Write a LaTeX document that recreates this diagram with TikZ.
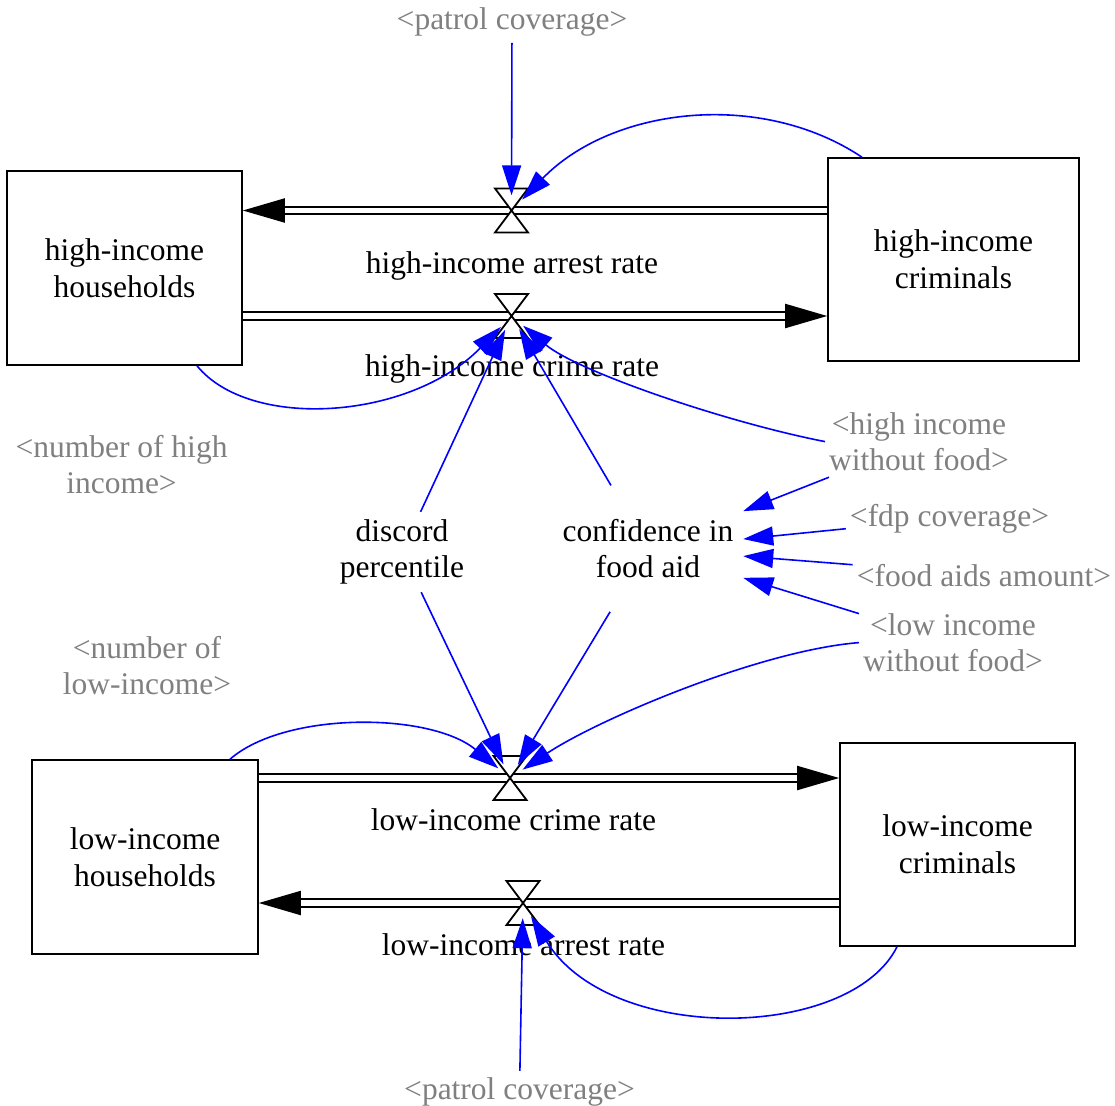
\documentclass[tikz,border=0pt]{standalone}
\usepackage{fontspec}
\setmainfont{Liberation Serif}
\usetikzlibrary{arrows.meta,calc}
\definecolor{linkblue}{RGB}{0,0,255}
\definecolor{ghostgray}{RGB}{128,128,128}
\begin{document}
\begin{tikzpicture}[x=1pt,y=-1pt,
  every node/.style={font=\fontsize{31.5}{36.7}\selectfont, align=center},
  stock/.style={draw, line width=1.6pt, inner sep=0pt},
  ghost/.style={text=ghostgray, inner xsep=4pt, inner ysep=6pt},
  ratelabel/.style={anchor=base, inner sep=0pt},
  valvept/.style={circle, minimum size=30pt, inner sep=0pt},
  pipe/.style={line width=2pt, double=white, double distance=5.7pt,
    -{Triangle[length=42pt,width=24pt]}},
  valveshape/.style={line width=1.8pt, fill=white, line join=miter},
  infolink/.style={draw=linkblue, line width=1.6pt,
    -{Triangle[length=30pt,width=19pt]}}
]
\fill[white] (0,0) rectangle (1115,1105);
\useasboundingbox (0,0) rectangle (1115,1105);

% stocks
\node[stock, minimum width=235pt, minimum height=194pt] (hh) at (124.5,268) {high-income\\households};
\node[stock, minimum width=251pt, minimum height=203pt] (hc) at (953.5,259.5) {high-income\\criminals};
\node[stock, minimum width=226pt, minimum height=194pt] (lh) at (145,857) {low-income\\households};
\node[stock, minimum width=235pt, minimum height=203pt] (lc) at (957.5,844.5) {low-income\\criminals};

% valves
\node[valvept] (hav) at (511.5,210.5) {};
\node[valvept] (hcv) at (511.5,316) {};
\node[valvept] (lcv) at (510,778) {};
\node[valvept] (lav) at (523,903) {};

% flow labels
\node[ratelabel] (havl) at (512,273) {high-income arrest rate};
\node[ratelabel] (hcvl) at (512,376) {high-income crime rate};
\node[ratelabel] (lcvl) at (513.5,830) {low-income crime rate};
\node[ratelabel] (lavl) at (523.5,955) {low-income arrest rate};

% auxiliaries
\node[minimum height=80pt, inner xsep=4pt] (dp) at (402,552) {discord\\percentile};
\node[minimum width=190pt, minimum height=126pt] (cf) at (648,548.6) {confidence in\\food aid};

% shadow variables
\node[ghost, anchor=base] (pt) at (512,30) {<patrol coverage>};
\node[ghost, anchor=base] (pb) at (519.5,1099) {<patrol coverage>};
\node[ghost] (nhi) at (121.5,464.6) {<number of high\\income>};
\node[ghost] (nli) at (147,665.6) {<number of\\low-income>};
\node[ghost] (hiwf) at (919,441.6) {<high income\\without food>};
\node[ghost, anchor=base] (fdp) at (949.5,526) {<fdp coverage>};
\node[ghost, anchor=base] (fa) at (984,586) {<food aids amount>};
\node[ghost] (liwf) at (953,642.6) {<low income\\without food>};

% flow pipes
\draw[pipe] (hc.west |- hav) -- (hh.east |- hav);
\draw[pipe] (hh.east |- hcv) -- (hc.west |- hcv);
\draw[pipe] (lh.east |- lcv) -- (lc.west |- lcv);
\draw[pipe] (lc.west |- lav) -- (lh.east |- lav);

\foreach \v in {hav,hcv,lcv,lav}
  \draw[valveshape] ([shift={(-16.5,-22)}]\v.center) -- ([shift={(16.5,-22)}]\v.center)
    -- ([shift={(-16.5,22)}]\v.center) -- ([shift={(16.5,22)}]\v.center) -- cycle;

% information links
\draw[infolink] (pt) -- (hav);
\draw[infolink] ([xshift=-91.5pt]hc.north) .. controls +(-102,-68) and +(100,-103) .. (hav);
\draw[infolink] ([xshift=72.5pt]hh.south) .. controls +(53,65) and +(-101.5,104) .. (hcv);
\draw[infolink] (dp) -- (hcv);
\draw[infolink] (cf) -- (hcv);
\draw[infolink] (hiwf.west) .. controls +(-102,-20) and +(65.5,55) .. (hcv);
\draw[infolink] (hiwf) -- (cf);
\draw[infolink] (fdp) -- (cf);
\draw[infolink] (fa) -- (cf);
\draw[infolink] (liwf) -- (cf);
\draw[infolink] (liwf.west) .. controls +(-100,8) and +(87,-58) .. (lcv);
\draw[infolink] (dp) -- (lcv);
\draw[infolink] (cf) -- (lcv);
\draw[infolink] ([xshift=85pt]lh.north) .. controls +(55,-48) and +(-80,-66) .. (lcv);
\draw[infolink] ([xshift=-60.5pt]lc.south) .. controls +(-47,94) and +(87,142) .. (lav);
\draw[infolink] (pb) -- (lav);
\end{tikzpicture}
\end{document}
